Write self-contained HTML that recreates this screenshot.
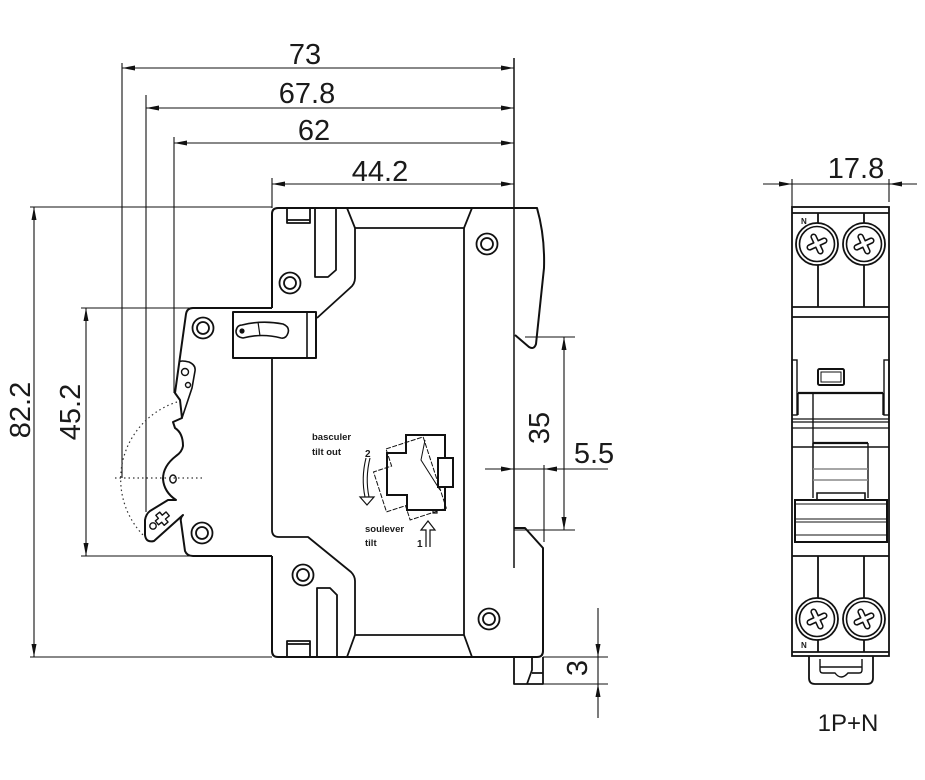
<!DOCTYPE html>
<html><head><meta charset="utf-8"><style>
html,body{margin:0;padding:0;background:#fff;}
svg{display:block;}
text{font-family:"Liberation Sans",sans-serif;fill:#1a1a1a;}
</style></head><body>
<svg width="925" height="780" viewBox="0 0 925 780" xmlns="http://www.w3.org/2000/svg">
<defs>
  <g id="scr">
    <circle r="21" fill="#fff" stroke="#111" stroke-width="1.8"/><circle r="17.5" fill="none" stroke="#111" stroke-width="1.6"/>
    <g transform="rotate(-25)">
      <path d="M-8,0H8M0,-8V8" stroke="#111" stroke-width="6.5" stroke-linecap="round"/>
      <path d="M-8,0H8M0,-8V8" stroke="#fff" stroke-width="3.4" stroke-linecap="round"/>
      <circle r="2.6" fill="#fff"/>
    </g>
  </g>
</defs>
<rect width="925" height="780" fill="#fff"/>

<!-- ===== Dimension lines ===== -->
<g fill="none" stroke="#111" stroke-width="1.1">
  <path d="M122,68H514M146,108H514M174,143H514M272,184H514"/>
  <path d="M122,63V478M146,95V512M174,137V393M272,178V208"/>
  <path d="M514,58V568" stroke-width="1.5"/>
  <path d="M34,207V657M30,207H272M30,657H272M86,308V556M81,308H190M81,556H190"/>
  <path d="M564,337V530M525,337H575M514,530H575M485,469H608M544,465V542"/>
  <path d="M598,608V718M543,657H608M543,684H608"/>
  <path d="M763,184H917M792,179V207M889,179V202"/>
</g>
<g fill="#111">
  <polygon points="122,68 135,65.5 135,70.5"/><polygon points="514,68 501,65.5 501,70.5"/>
  <polygon points="146,108 159,105.5 159,110.5"/><polygon points="514,108 501,105.5 501,110.5"/>
  <polygon points="174,143 187,140.5 187,145.5"/><polygon points="514,143 501,140.5 501,145.5"/>
  <polygon points="272,184 285,181.5 285,186.5"/><polygon points="514,184 501,181.5 501,186.5"/>
  <polygon points="34,207 31.5,220 36.5,220"/><polygon points="34,657 31.5,644 36.5,644"/>
  <polygon points="86,308 83.5,321 88.5,321"/><polygon points="86,556 83.5,543 88.5,543"/>
  <polygon points="564,337 561.5,350 566.5,350"/><polygon points="564,530 561.5,517 566.5,517"/>
  <polygon points="514,469 501,466.5 501,471.5"/><polygon points="544,469 557,466.5 557,471.5"/>
  <polygon points="598,657 595.5,644 600.5,644"/><polygon points="598,684 595.5,697 600.5,697"/>
  <polygon points="792,184 779,181.5 779,186.5"/><polygon points="889,184 902,181.5 902,186.5"/>
</g>

<!-- ===== Dimension text ===== -->
<g font-size="29" text-anchor="middle">
  <text x="305" y="64">73</text>
  <text x="307" y="103">67.8</text>
  <text x="314" y="140">62</text>
  <text x="380" y="181">44.2</text>
  <text transform="translate(30,410) rotate(-90)">82.2</text>
  <text transform="translate(80,412) rotate(-90)">45.2</text>
  <text transform="translate(549,428) rotate(-90)">35</text>
  <text transform="translate(587,668) rotate(-90)">3</text>
  <text x="594" y="463">5.5</text>
  <text x="856" y="178">17.8</text>
</g>
<text x="848" y="731" font-size="24" text-anchor="middle">1P+N</text>

<!-- ===== Main body (side view) ===== -->
<g fill="none" stroke="#111" stroke-width="2" stroke-linejoin="round">
  <path d="M272,308V214Q272,208 278,208H537Q545,236 544,268L536,344Q534,350 529,347L515,335"/>
  <path d="M514,528H525L543,548V651Q543,657 537,657H278Q272,657 272,651V556"/>
  <path d="M272,308H193Q187,308 186,314L175,393L180,400L182,418L173,422L175,428Q183,433 183,446Q182,452 176,456Q163,466 163,479Q164,492 176,500L168,500L150,511Q146,514 145,520L145,535Q146,543 154,541L183,515Q180,518 181,522L185,551Q187,556 193,556H272"/>
  <path d="M179,362Q181,360 189,362Q196,365 195,371L192,388L182,418" stroke-width="1.6"/>
  <circle cx="185" cy="372" r="3.5" stroke-width="1.4"/>
  <circle cx="188" cy="385" r="2.5" stroke-width="1.4"/>
  <circle cx="153" cy="526" r="3.2" stroke-width="1.4"/>
  <path d="M159,512h5v4h5v5h-5v4h-5v-4h-4v-5h4z" stroke-width="1.4" transform="rotate(-40 162 518)"/>
  <ellipse cx="173" cy="479" rx="3.2" ry="4" stroke-width="1.4"/>

  <path d="M272,358V530Q272,537 279,537H308L351,572Q355,576 355,581V635H464M355,635L347,657M464,635L472,657M464,228V635" stroke-width="1.8"/>
  <path d="M347,208L355,228V278Q355,284 350,288L317,318M355,228H464L472,208" stroke-width="1.8"/>
  <path d="M287,208V223H310V208M287,220H310" stroke-width="1.8"/>
  <path d="M315,208V277H328L336,270V208" stroke-width="1.8"/>
  <path d="M287,657V641H310V657M287,644H310" stroke-width="1.8"/>
  <path d="M317,657V588H330L337,595V657" stroke-width="1.8"/>
  <path d="M514,657V684H543V657M532,657V670L527,684M532,673H543" stroke-width="1.8"/>

  <rect x="233" y="312" width="83" height="46" fill="#fff"/>
  <path d="M307,312V358" stroke-width="1.6"/>
  <path d="M242,325Q262,320 283,324Q290,327 288,333Q286,339 281,338Q262,333 243,338Q236,337 236,331Q237,325 242,325Z" stroke-width="1.6"/>
  <path d="M258,322L260,336" stroke-width="1.2"/>

  <g stroke-width="1.8">
    <circle cx="290" cy="283" r="10.5"/><circle cx="290" cy="283" r="6"/>
    <circle cx="487" cy="244" r="10.5"/><circle cx="487" cy="244" r="6"/>
    <circle cx="203" cy="328" r="10.5"/><circle cx="203" cy="328" r="6"/>
    <circle cx="202" cy="533" r="10.5"/><circle cx="202" cy="533" r="6"/>
    <circle cx="303" cy="575" r="10.5"/><circle cx="303" cy="575" r="6"/>
    <circle cx="489" cy="619" r="10.5"/><circle cx="489" cy="619" r="6"/>
  </g>
</g>
<circle cx="242" cy="331" r="2.6" fill="#111"/>

<g fill="none" stroke="#333" stroke-width="1.2" stroke-dasharray="1.5,3">
  <path d="M177,402A81,81 0 0 0 143,535"/>
  <path d="M115,478H205"/>
</g>

<!-- ===== Tilt icon ===== -->
<g fill="none" stroke="#111">
  <path d="M406,435H445V510H407V495H387V453H406Z" stroke-width="2"/>
  <rect x="438" y="458" width="15" height="29" stroke-width="2" fill="#fff"/>
  <path d="M433,510v3h4v-3" stroke-width="1.2"/>
  <path d="M406,435H445V510H407V495H387V453H406Z" stroke-width="1" transform="rotate(-18 440 505)" stroke-dasharray="5,1.5"/>
  <path d="M425,440L421,460L440,490" stroke-width="1"/>
  <path d="M366,458Q361,478 365,497M370,458Q365,478 369,497" stroke-width="1.1"/>
  <path d="M360,497L367,505L374,497Z" stroke-width="1.2"/>
  <path d="M426,547V530H421L428,521L435,530H430V547" stroke-width="1.2"/>
</g>
<g font-size="9.5" font-weight="bold">
  <text x="312" y="440">basculer</text>
  <text x="312" y="455">tilt out</text>
  <text x="365" y="532">soulever</text>
  <text x="365" y="546">tilt</text>
  <text x="365" y="457" font-size="10">2</text>
  <text x="417" y="547" font-size="10">1</text>
</g>

<!-- ===== Front view (right) ===== -->
<g fill="none" stroke="#111" stroke-width="1.8">
  <rect x="792" y="207" width="97" height="449"/>
  <path d="M792,213H889M818,213V307M864,213V307M792,307H889M792,317H889"/>
  <rect x="792" y="360" width="5" height="55" stroke-width="1.4"/>
  <rect x="884" y="360" width="5" height="55" stroke-width="1.4"/>
  <rect x="818" y="369" width="26" height="16" rx="1.5" stroke-width="2"/>
  <rect x="821" y="372" width="20" height="10" stroke-width="1"/>
  <path d="M798,393H883" stroke-width="2.2"/>
  <path d="M798,393V415M883,393V415M813,393V447" stroke-width="1.4"/>
  <path d="M792,419H889M792,422H889M792,428H889" stroke-width="1.3"/>
  <path d="M813,443H868" stroke-width="2.2"/>
  <path d="M792,447H889" stroke-width="1.4"/>
  <path d="M813,443V498M868,443V498" stroke-width="1.4"/>
  <path d="M813,469H868M813,480H868" stroke="#888" stroke-width="1.4"/>
  <path d="M817,499V493H865V499" stroke-width="1.6"/>
  <rect x="795" y="500" width="92" height="42" stroke-width="2"/>
  <path d="M795,504H887M795,519H887M795,522H887M795,535H887" stroke-width="1.1"/>
  <path d="M792,556H889M818,556V652M864,556V652M792,652H889"/>
  <path d="M809,656V678Q809,684 815,684H867Q873,684 873,678V656"/>
  <path d="M820,659V670Q820,673 823,673H835Q841,681 848,673H859Q862,673 862,670V659M820,667H862" stroke-width="1.4"/>
</g>
<use href="#scr" transform="translate(817,244)"/>
<use href="#scr" transform="translate(864,244)"/>
<use href="#scr" transform="translate(817,619)"/>
<use href="#scr" transform="translate(864,619)"/>
<g font-size="8" font-weight="bold">
  <text x="801" y="224">N</text>
  <text x="801" y="648">N</text>
</g>
</svg>
</body></html>
